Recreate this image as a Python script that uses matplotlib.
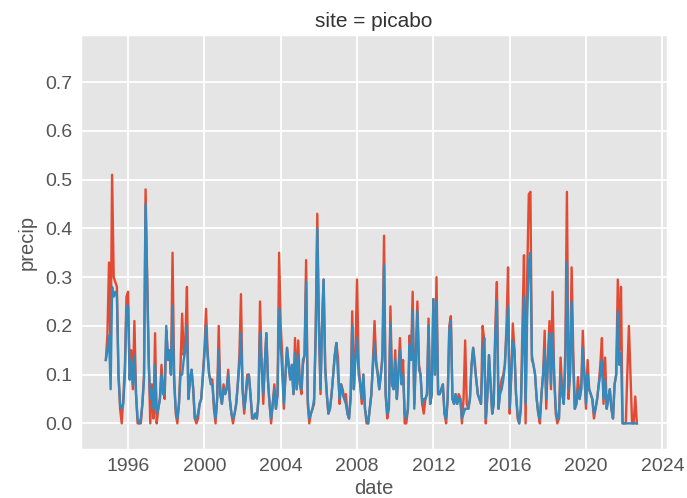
import matplotlib
matplotlib.use("Agg")
import matplotlib.pyplot as plt
import matplotlib.dates as mdates
import pandas as pd

# monthly precip at picabo, Nov 1994 .. Sep 2022
start_month = "1994-11-01"

precip_a = [
    0.13, 0.18,                                                              # 1994
    0.33, 0.15, 0.51, 0.30, 0.29, 0.28, 0.10, 0.03, 0.00, 0.05, 0.12, 0.26,  # 1995
    0.27, 0.09, 0.15, 0.07, 0.21, 0.06, 0.00, 0.00, 0.00, 0.04, 0.10, 0.48,  # 1996
    0.30, 0.12, 0.00, 0.08, 0.01, 0.185, 0.00, 0.03, 0.05, 0.12, 0.07, 0.05, # 1997
    0.19, 0.14, 0.15, 0.10, 0.35, 0.10, 0.02, 0.00, 0.04, 0.12, 0.225, 0.14, # 1998
    0.17, 0.28, 0.05, 0.09, 0.11, 0.07, 0.01, 0.00, 0.01, 0.04, 0.05, 0.10,  # 1999
    0.15, 0.235, 0.15, 0.10, 0.09, 0.09, 0.03, 0.00, 0.05, 0.20, 0.06, 0.04, # 2000
    0.08, 0.06, 0.07, 0.11, 0.05, 0.02, 0.00, 0.02, 0.04, 0.08, 0.14, 0.265, # 2001
    0.07, 0.02, 0.06, 0.10, 0.10, 0.06, 0.01, 0.01, 0.02, 0.01, 0.05, 0.25,  # 2002
    0.12, 0.04, 0.12, 0.185, 0.09, 0.04, 0.00, 0.04, 0.08, 0.03, 0.06, 0.35, # 2003
    0.20, 0.135, 0.03, 0.10, 0.155, 0.12, 0.09, 0.12, 0.06, 0.175, 0.07, 0.17,  # 2004
    0.08, 0.06, 0.12, 0.14, 0.335, 0.04, 0.00, 0.02, 0.03, 0.04, 0.20, 0.43,    # 2005
    0.20, 0.06, 0.20, 0.295, 0.12, 0.06, 0.02, 0.03, 0.06, 0.10, 0.14, 0.165,   # 2006
    0.135, 0.04, 0.08, 0.07, 0.05, 0.06, 0.02, 0.01, 0.06, 0.23, 0.07, 0.15,    # 2007
    0.295, 0.12, 0.08, 0.04, 0.10, 0.03, 0.00, 0.00, 0.03, 0.06, 0.13, 0.21,    # 2008
    0.13, 0.10, 0.07, 0.10, 0.14, 0.385, 0.06, 0.01, 0.03, 0.24, 0.08, 0.07,    # 2009
    0.15, 0.05, 0.10, 0.175, 0.10, 0.13, 0.00, 0.00, 0.03, 0.18, 0.14, 0.27,    # 2010
    0.04, 0.15, 0.25, 0.12, 0.10, 0.04, 0.02, 0.05, 0.06, 0.215, 0.04, 0.06,    # 2011
    0.255, 0.10, 0.30, 0.06, 0.06, 0.07, 0.08, 0.02, 0.00, 0.05, 0.20, 0.22,    # 2012
    0.05, 0.04, 0.06, 0.04, 0.06, 0.05, 0.00, 0.05, 0.17, 0.04, 0.03, 0.05,     # 2013
    0.12, 0.155, 0.13, 0.09, 0.06, 0.05, 0.04, 0.20, 0.17, 0.00, 0.06, 0.14,    # 2014
    0.08, 0.02, 0.04, 0.20, 0.29, 0.03, 0.07, 0.09, 0.10, 0.12, 0.20, 0.32,     # 2015
    0.02, 0.10, 0.205, 0.15, 0.06, 0.01, 0.00, 0.03, 0.20, 0.345, 0.00, 0.30,   # 2016
    0.47, 0.475, 0.13, 0.12, 0.10, 0.05, 0.02, 0.00, 0.06, 0.10, 0.19, 0.03,    # 2017
    0.13, 0.21, 0.07, 0.27, 0.10, 0.02, 0.00, 0.01, 0.135, 0.07, 0.04, 0.15,   # 2018
    0.475, 0.05, 0.10, 0.32, 0.15, 0.03, 0.04, 0.095, 0.05, 0.07, 0.19, 0.10,  # 2019
    0.03, 0.13, 0.07, 0.06, 0.05, 0.01, 0.03, 0.05, 0.08, 0.12, 0.175, 0.04,   # 2020
    0.135, 0.03, 0.05, 0.07, 0.03, 0.01, 0.08, 0.10, 0.295, 0.15, 0.28, 0.00,  # 2021
    0.00, 0.00, 0.10, 0.20, 0.10, 0.00, 0.00, 0.055, 0.00,                     # 2022
]

precip_b = [
    0.13, 0.15,                                                              # 1994
    0.18, 0.07, 0.28, 0.26, 0.27, 0.26, 0.10, 0.04, 0.03, 0.04, 0.10, 0.24,  # 1995
    0.24, 0.09, 0.13, 0.08, 0.14, 0.06, 0.01, 0.00, 0.01, 0.04, 0.09, 0.45,  # 1996
    0.28, 0.12, 0.05, 0.07, 0.03, 0.12, 0.02, 0.03, 0.05, 0.10, 0.06, 0.06,  # 1997
    0.20, 0.13, 0.15, 0.10, 0.24, 0.08, 0.03, 0.01, 0.04, 0.10, 0.10, 0.13,  # 1998
    0.15, 0.20, 0.05, 0.09, 0.11, 0.07, 0.01, 0.01, 0.02, 0.04, 0.05, 0.09,  # 1999
    0.14, 0.20, 0.14, 0.10, 0.08, 0.08, 0.04, 0.01, 0.05, 0.15, 0.06, 0.04,  # 2000
    0.07, 0.06, 0.07, 0.10, 0.05, 0.02, 0.01, 0.02, 0.04, 0.08, 0.12, 0.185, # 2001
    0.07, 0.03, 0.05, 0.09, 0.10, 0.06, 0.02, 0.01, 0.02, 0.01, 0.05, 0.185, # 2002
    0.12, 0.06, 0.12, 0.185, 0.09, 0.04, 0.01, 0.04, 0.07, 0.03, 0.06, 0.235,  # 2003
    0.16, 0.10, 0.04, 0.10, 0.155, 0.12, 0.09, 0.12, 0.06, 0.145, 0.07, 0.14,  # 2004
    0.08, 0.07, 0.13, 0.14, 0.29, 0.05, 0.01, 0.02, 0.03, 0.05, 0.18, 0.40,    # 2005
    0.20, 0.07, 0.20, 0.295, 0.11, 0.06, 0.02, 0.03, 0.06, 0.10, 0.14, 0.165,  # 2006
    0.10, 0.05, 0.08, 0.06, 0.05, 0.04, 0.02, 0.01, 0.05, 0.20, 0.07, 0.13,    # 2007
    0.175, 0.10, 0.08, 0.05, 0.10, 0.03, 0.01, 0.00, 0.03, 0.06, 0.12, 0.165,  # 2008
    0.12, 0.10, 0.07, 0.10, 0.13, 0.325, 0.06, 0.02, 0.03, 0.205, 0.08, 0.07,  # 2009
    0.13, 0.05, 0.10, 0.15, 0.08, 0.10, 0.02, 0.01, 0.03, 0.16, 0.13, 0.23,    # 2010
    0.03, 0.14, 0.23, 0.11, 0.10, 0.04, 0.05, 0.05, 0.06, 0.20, 0.04, 0.06,    # 2011
    0.255, 0.10, 0.25, 0.06, 0.06, 0.07, 0.08, 0.02, 0.01, 0.05, 0.19, 0.21,   # 2012
    0.05, 0.04, 0.06, 0.04, 0.05, 0.05, 0.01, 0.02, 0.03, 0.03, 0.03, 0.05,    # 2013
    0.12, 0.155, 0.12, 0.09, 0.06, 0.05, 0.04, 0.13, 0.175, 0.01, 0.06, 0.14,  # 2014
    0.08, 0.02, 0.04, 0.18, 0.25, 0.03, 0.06, 0.07, 0.09, 0.12, 0.18, 0.24,    # 2015
    0.03, 0.10, 0.17, 0.15, 0.06, 0.02, 0.00, 0.03, 0.15, 0.26, 0.04, 0.22,    # 2016
    0.33, 0.35, 0.14, 0.12, 0.10, 0.05, 0.02, 0.01, 0.06, 0.10, 0.15, 0.05,    # 2017
    0.13, 0.185, 0.08, 0.185, 0.10, 0.03, 0.01, 0.01, 0.10, 0.06, 0.04, 0.12,  # 2018
    0.33, 0.07, 0.10, 0.25, 0.12, 0.03, 0.04, 0.07, 0.05, 0.07, 0.155, 0.10,   # 2019
    0.04, 0.10, 0.07, 0.06, 0.05, 0.02, 0.03, 0.05, 0.08, 0.10, 0.13, 0.05,    # 2020
    0.09, 0.03, 0.05, 0.07, 0.03, 0.01, 0.08, 0.10, 0.23, 0.12, 0.145, 0.00,   # 2021
    0.00, 0.00, 0.00, 0.00, 0.00, 0.00, 0.00, 0.00, 0.00,                      # 2022
]

dates = pd.date_range(start_month, periods=len(precip_a), freq="MS")

plt.style.use("ggplot")
plt.rcParams["font.family"] = ["Liberation Sans", "DejaVu Sans"]
plt.rcParams["font.size"] = 14

fig = plt.figure(figsize=(6.87, 4.98), dpi=100)
ax = fig.add_axes([0.118, 0.098, 0.853, 0.832])

ax.plot(dates, precip_a, color="#E24A33", lw=1.7)
ax.plot(dates, precip_b, color="#348ABD", lw=1.7)

ax.set_xlim(pd.Timestamp("1993-07-15"), pd.Timestamp("2024-04-01"))
ax.set_ylim(-0.053, 0.797)
ax.set_yticks([0.0, 0.1, 0.2, 0.3, 0.4, 0.5, 0.6, 0.7])
ax.xaxis.set_major_locator(mdates.YearLocator(4))
ax.xaxis.set_major_formatter(mdates.DateFormatter("%Y"))
ax.tick_params(labelsize=14, colors="#555555", length=0, pad=6)
ax.grid(color="white", lw=1.3)

ax.set_xlabel("date", fontsize=14.5, color="#555555", labelpad=3)
ax.set_ylabel("precip", fontsize=14.5, color="#555555", labelpad=6)
ax.set_title("site = picabo", fontsize=15, color="#333333", pad=6)

fig.savefig("out.png", dpi=100)
